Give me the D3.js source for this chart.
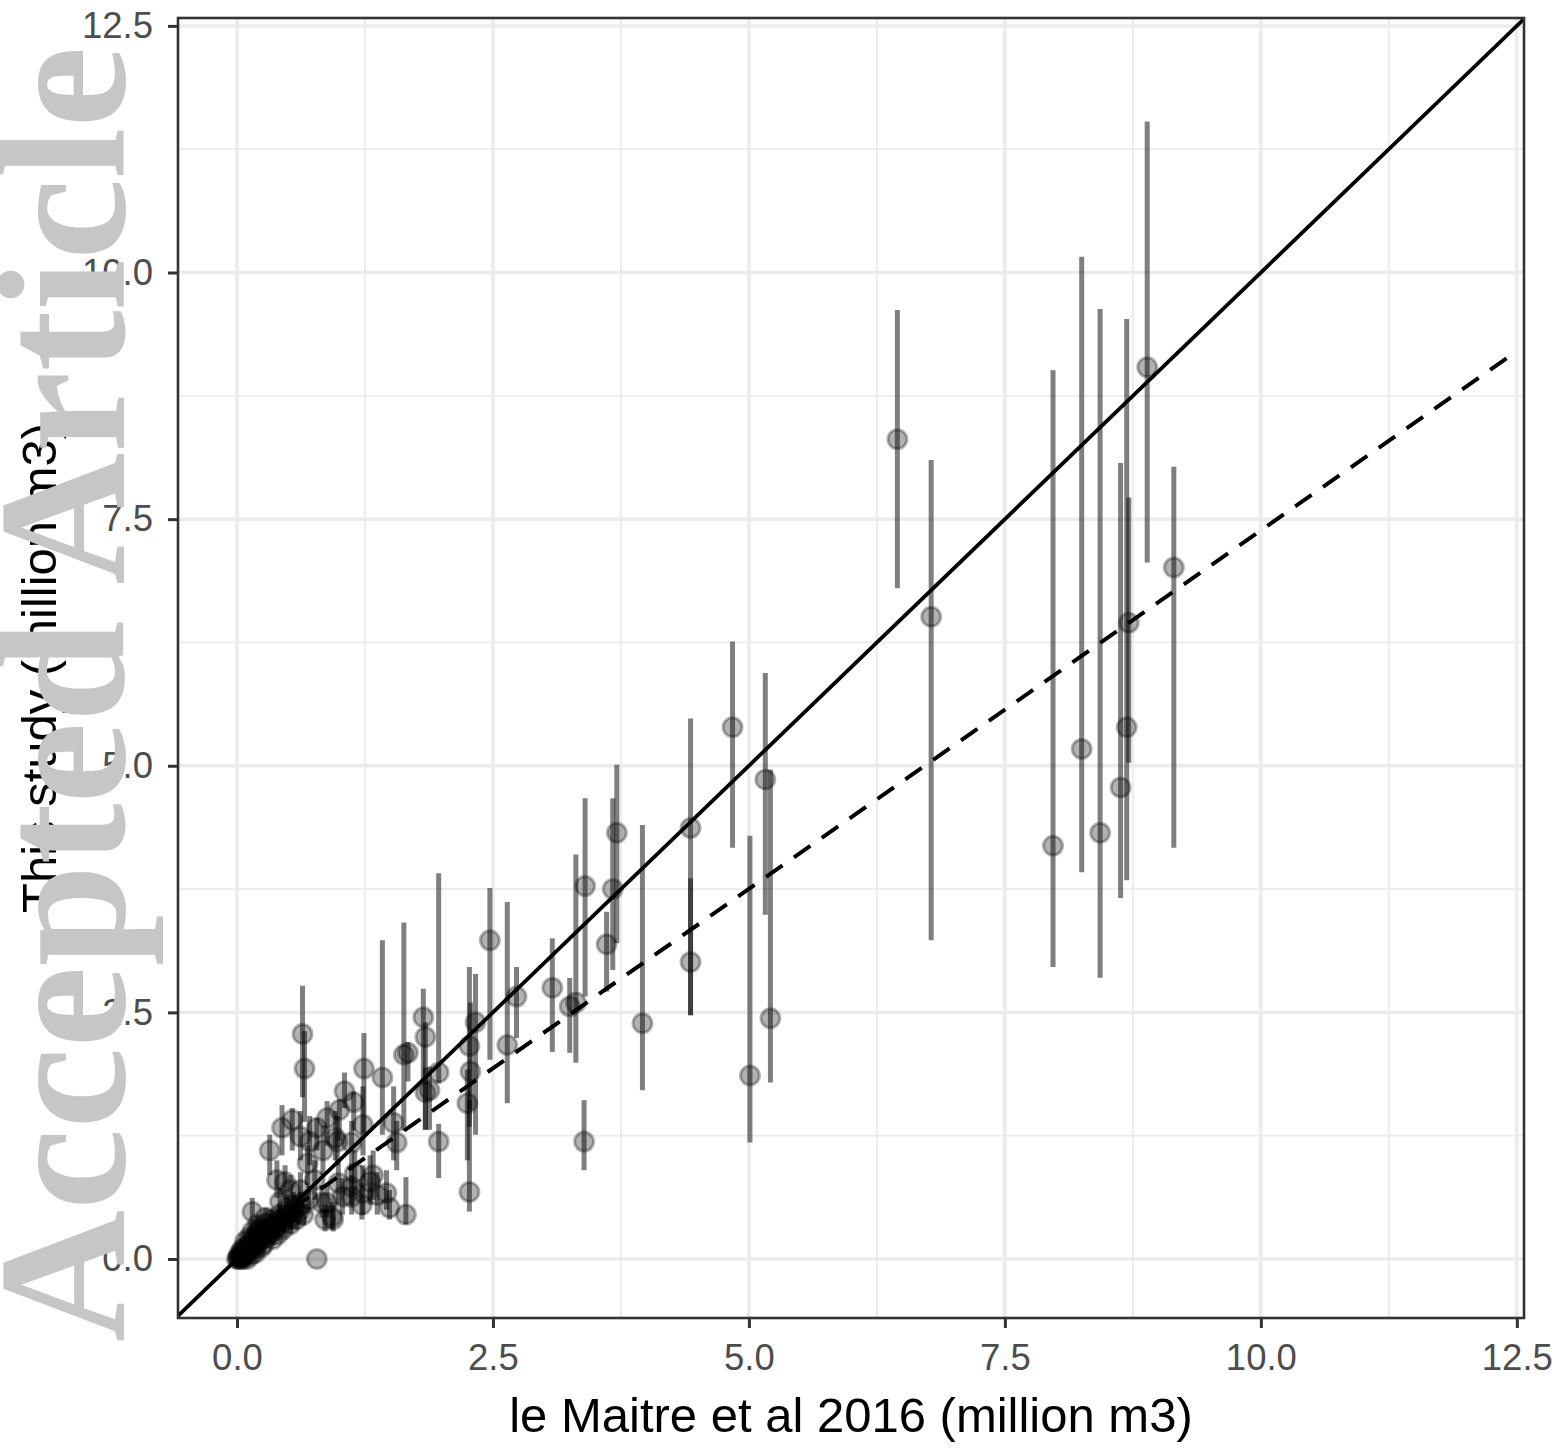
<!DOCTYPE html>
<html>
<head>
<meta charset="utf-8">
<script src="https://cdn.jsdelivr.net/npm/d3@7/dist/d3.min.js"></script>
<style>
body { margin: 0; background: white; }
</style>
</head>
<body>
<div id="chart"></div>
<script>
const margin = {
    top : 18,
    bot : 132,
    left : 178,
    right : 35
}
const sizing = {
    width : 1559,
    height: 1450
}

// values (million m3)
const leMaitre = [
    6.45, 6.78, 8.89, 9.15, 7.97, 8.25, 8.43, 8.63, 8.69, 8.71,
    4.84, 5.16, 5.01, 5.21, 4.43, 4.43, 3.96, 3.71, 3.67, 3.40,
    3.31, 3.25, 3.08, 3.61, 2.73, 2.64, 3.39, 2.47,
    2.33, 2.27, 2.28, 2.25, 2.27, 1.82, 1.84, 1.63, 1.67, 1.42,
    1.84, 1.88, 1.97, 1.97, 1.53, 1.56, 1.65, 1.49, 1.46, 1.33,
    1.23, 1.24, 0.64, 0.66, 1.05, 0.44, 0.54, 0.32, 0.78, 0.88,
    1.00, 1.14, 1.23, 0.96, 0.78, 0.15, 0.42, 0.39, 0.47, 0.69,
    0.52, 0.93, 0.86, 1.12, 1.15, 1.03, 0.83, 0.76, 0.62,
    0.98, 1.12, 0.84, 0.99, 1.12, 1.37, 1.22, 0.88, 0.94, 0.71,
    0.62, 1.30,
    0.00, 0.01, 0.02, 0.03, 0.04, 0.05, 0.06, 0.07, 0.08, 0.09,
    0.10, 0.11, 0.12, 0.13, 0.14, 0.15, 0.16, 0.17, 0.18, 0.19,
    0.20, 0.21, 0.22, 0.24, 0.25, 0.27, 0.28, 0.30, 0.32, 0.34,
    0.36, 0.38, 0.40, 0.43, 0.46, 0.50, 0.53, 0.56, 0.60, 0.02,
    0.05, 0.08, 0.12, 0.16, 0.20, 0.25, 0.30,
    0.05, 0.10, 0.12, 0.18, 0.22, 0.26, 0.30, 0.33, 0.35, 0.40,
    0.42, 0.45, 0.48, 0.52, 0.55, 0.58, 0.62, 0.65, 0.70, 0.08,
    0.15, 0.20, 0.28, 0.04, 0.06, 0.10, 0.14, 0.18, 0.24
]
const thisStudy = [
    8.31, 6.51, 9.04, 7.01, 4.19, 5.17, 4.32, 4.78, 5.39, 6.45,
    5.39, 4.86, 1.86, 2.44, 4.37, 3.01, 2.39, 4.32, 3.75, 3.78,
    2.60, 2.56, 2.75, 3.19, 2.66, 2.17, 1.19, 3.23,
    2.40, 2.16, 1.90, 1.58, 0.68, 2.45, 2.25, 2.07, 2.09, 1.84,
    1.69, 1.71, 1.89, 1.19, 1.38, 1.18, 0.45, 0.52, 0.67, 0.85,
    0.67, 1.93, 2.28, 1.93, 1.70, 1.33, 1.41, 1.10, 1.33, 1.43,
    1.51, 1.59, 1.36, 1.23, 0.00, 0.48, 0.58, 0.80, 0.78, 0.97,
    0.70, 0.43, 0.40, 0.73, 0.87, 0.63, 0.57, 0.80, 0.70,
    1.19, 1.18, 1.10, 0.77, 0.63, 0.65, 0.55, 0.57, 0.40, 1.19,
    1.24, 0.78,
    0.00, 0.01, 0.00, 0.02, 0.03, 0.04, 0.02, 0.05, 0.06, 0.08,
    0.07, 0.10, 0.09, 0.12, 0.11, 0.15, 0.13, 0.18, 0.16, 0.20,
    0.15, 0.22, 0.19, 0.25, 0.21, 0.28, 0.24, 0.30, 0.27, 0.33,
    0.30, 0.37, 0.34, 0.40, 0.38, 0.45, 0.42, 0.50, 0.48, 0.05,
    0.08, 0.12, 0.16, 0.22, 0.27, 0.31, 0.36,
    0.10, 0.05, 0.22, 0.10, 0.30, 0.15, 0.22, 0.40, 0.20, 0.25,
    0.45, 0.30, 0.50, 0.35, 0.55, 0.40, 0.55, 0.45, 0.60, 0.18,
    0.28, 0.35, 0.42, 0.00, 0.00, 0.00, 0.04, 0.06, 0.12
]
const lower = [
    6.80, 3.23, 7.06, 4.17, 2.96, 3.92, 2.85, 3.66, 3.84, 5.03,
    4.17, 3.49, 1.18, 1.79, 2.47, 2.47, 1.71, 3.20, 2.93, 2.66,
    1.99, 2.09, 2.10, 2.71, 2.24, 1.58, 0.90, 2.02,
    1.26, 1.34, 1.51, 1.00, 0.48, 1.81, 1.31, 1.30, 1.80, 1.26,
    1.31, 1.31, 1.78, 0.82, 1.00, 0.90, 0.35, 0.40, 0.50, 0.60,
    0.45, 1.28, 1.64, 1.39, 1.53, 1.05, 1.10, 0.85, 1.10, 1.15,
    1.20, 1.30, 1.05, 1.00, 0.00, 0.35, 0.45, 0.62, 0.60, 0.75,
    0.55, 0.30, 0.28, 0.55, 0.65, 0.45, 0.42, 0.60, 0.55,
    0.95, 0.90, 0.85, 0.55, 0.45, 0.45, 0.40, 0.42, 0.28, 0.95,
    1.00, 0.55,
    0.00, 0.00, 0.00, 0.01, 0.02, 0.02, 0.01, 0.03, 0.04, 0.05,
    0.04, 0.06, 0.05, 0.08, 0.07, 0.10, 0.08, 0.12, 0.10, 0.14,
    0.10, 0.15, 0.13, 0.18, 0.14, 0.20, 0.17, 0.22, 0.19, 0.24,
    0.21, 0.27, 0.24, 0.30, 0.27, 0.33, 0.30, 0.37, 0.35, 0.03,
    0.05, 0.08, 0.11, 0.16, 0.20, 0.23, 0.27,
    0.06, 0.02, 0.15, 0.06, 0.22, 0.10, 0.16, 0.30, 0.14, 0.18,
    0.35, 0.22, 0.38, 0.26, 0.42, 0.30, 0.42, 0.34, 0.46, 0.12,
    0.20, 0.26, 0.32, 0.00, 0.00, 0.00, 0.02, 0.03, 0.08
]
const upper = [
    9.62, 8.10, 11.53, 8.03, 9.01, 10.16, 9.63, 8.07, 9.53, 7.72,
    6.26, 5.94, 4.29, 4.96, 5.48, 3.86, 4.40, 5.01, 4.67, 4.67,
    4.10, 2.85, 3.25, 3.52, 2.96, 3.62, 1.61, 3.76,
    2.89, 2.96, 2.60, 1.92, 1.61, 2.74, 2.40, 3.41, 2.20, 3.23,
    1.94, 1.95, 3.91, 1.37, 1.75, 1.40, 0.83, 0.70, 0.90, 1.10,
    0.95, 2.29, 2.77, 2.31, 1.89, 1.56, 1.53, 1.26, 1.43, 1.60,
    1.62, 1.70, 1.75, 1.50, 0.00, 0.62, 0.72, 1.00, 0.95, 1.15,
    0.85, 0.58, 0.55, 0.95, 1.10, 0.82, 0.75, 1.00, 0.88,
    1.45, 1.40, 1.35, 1.00, 0.85, 0.88, 0.75, 0.75, 0.55, 1.45,
    1.50, 1.05,
    0.00, 0.02, 0.01, 0.04, 0.05, 0.06, 0.04, 0.08, 0.09, 0.11,
    0.10, 0.14, 0.13, 0.17, 0.16, 0.20, 0.18, 0.24, 0.22, 0.27,
    0.21, 0.30, 0.26, 0.33, 0.29, 0.37, 0.32, 0.39, 0.36, 0.43,
    0.40, 0.48, 0.45, 0.52, 0.50, 0.58, 0.55, 0.64, 0.62, 0.08,
    0.12, 0.16, 0.22, 0.29, 0.35, 0.40, 0.46,
    0.14, 0.08, 0.30, 0.14, 0.38, 0.20, 0.28, 0.50, 0.26, 0.32,
    0.55, 0.38, 0.62, 0.44, 0.68, 0.50, 0.68, 0.56, 0.74, 0.24,
    0.36, 0.44, 0.52, 0.00, 0.02, 0.02, 0.06, 0.09, 0.16
]

const majorTicks = [0, 2.5, 5, 7.5, 10, 12.5]
const minorTicks = [1.25, 3.75, 6.25, 8.75, 11.25]
// dashed regression line (the solid one is 1:1)
const fit = { slope: 0.727, intercept: 0.116, from: 0, to: 12.48 }
const xLabel = "le Maitre et al 2016 (million m3)"
const yLabel = "This study (million m3)"
const watermark = "Accepted Article"

const data = leMaitre.map((d, i) => ({
    x: d, y: thisStudy[i], lo: lower[i], hi: upper[i]
}))

const innerW = sizing.width - margin.left - margin.right
const innerH = sizing.height - margin.top - margin.bot

const svg = d3.select("#chart").append("svg")
    .attr("width", sizing.width)
    .attr("height", sizing.height)
    .style("font-family", "'Liberation Sans', Arial, Helvetica, sans-serif")

svg.append("rect")
    .attr("width", "100%")
    .attr("height", "100%")
    .attr("fill", "white")

const x = d3.scaleLinear().domain([-0.576, 12.57]).range([0, innerW])
const y = d3.scaleLinear().domain([-0.598, 12.58]).range([innerH, 0])

const panel = svg.append("g")
    .attr("transform", `translate(${margin.left},${margin.top})`)

panel.append("clipPath").attr("id", "clip")
    .append("rect").attr("width", innerW).attr("height", innerH)

// grid
const grid = panel.append("g")
const gridLines = (vals, w) => {
    grid.append("g").selectAll("line").data(vals).join("line")
        .attr("x1", d => x(d)).attr("x2", d => x(d))
        .attr("y1", 0).attr("y2", innerH)
        .attr("stroke", "#ebebeb").attr("stroke-width", w)
    grid.append("g").selectAll("line").data(vals).join("line")
        .attr("y1", d => y(d)).attr("y2", d => y(d))
        .attr("x1", 0).attr("x2", innerW)
        .attr("stroke", "#ebebeb").attr("stroke-width", w)
}
gridLines(minorTicks, 1.8)
gridLines(majorTicks, 3.5)

const plot = panel.append("g").attr("clip-path", "url(#clip)")

// error bars
plot.append("g").selectAll("line").data(data.filter(d => d.hi > d.lo)).join("line")
    .attr("x1", d => x(d.x)).attr("x2", d => x(d.x))
    .attr("y1", d => y(d.lo)).attr("y2", d => y(d.hi))
    .attr("stroke", "rgba(0,0,0,0.5)")
    .attr("stroke-width", 5)

// points
plot.append("g").selectAll("circle").data(data).join("circle")
    .attr("cx", d => x(d.x))
    .attr("cy", d => y(d.y))
    .attr("r", 9.5)
    .attr("fill", "rgba(0,0,0,0.3)")
    .attr("stroke", "rgba(0,0,0,0.3)")
    .attr("stroke-width", 3)

// 1:1 line
plot.append("line")
    .attr("x1", x(x.domain()[0])).attr("y1", y(x.domain()[0]))
    .attr("x2", x(x.domain()[1])).attr("y2", y(x.domain()[1]))
    .attr("stroke", "black").attr("stroke-width", 3.8)

// fitted line
plot.append("line")
    .attr("x1", x(fit.from)).attr("y1", y(fit.intercept + fit.slope * fit.from))
    .attr("x2", x(fit.to)).attr("y2", y(fit.intercept + fit.slope * fit.to))
    .attr("stroke", "black").attr("stroke-width", 4)
    .attr("stroke-dasharray", "20,14")

// border
panel.append("rect")
    .attr("width", innerW).attr("height", innerH)
    .attr("fill", "none").attr("stroke", "#333333").attr("stroke-width", 2.6)

// axes
const xAxis = d3.axisBottom(x).tickValues(majorTicks).tickFormat(d3.format(".1f"))
    .tickSize(10).tickPadding(16)
const yAxis = d3.axisLeft(y).tickValues(majorTicks).tickFormat(d3.format(".1f"))
    .tickSize(10).tickPadding(15)

const xg = panel.append("g").attr("transform", `translate(0,${innerH})`).call(xAxis)
const yg = panel.append("g").call(yAxis)
for (const g of [xg, yg]) {
    g.select(".domain").remove()
    g.selectAll(".tick line").attr("stroke", "#333333").attr("stroke-width", 3)
    g.selectAll(".tick text")
        .attr("fill", "#4d4d4d")
        .style("font-size", "36.5px")
        .style("font-family", "'Liberation Sans', Arial, Helvetica, sans-serif")
}

// titles
svg.append("text")
    .attr("x", margin.left + innerW / 2)
    .attr("y", 1432)
    .attr("text-anchor", "middle")
    .style("font-size", "49px")
    .attr("fill", "black")
    .text(xLabel)

svg.append("text")
    .attr("transform", `translate(56,${margin.top + innerH / 2}) rotate(-90)`)
    .attr("text-anchor", "middle")
    .style("font-size", "49px")
    .attr("fill", "black")
    .text(yLabel)

// watermark on top
svg.append("text")
    .attr("transform", "translate(124,1342) rotate(-90)")
    .style("font-family", "'Liberation Serif', 'Times New Roman', serif")
    .style("font-weight", "bold")
    .style("font-size", "183px")
    .attr("fill", "#c6c6c6")
    .text(watermark)
</script>
</body>
</html>
